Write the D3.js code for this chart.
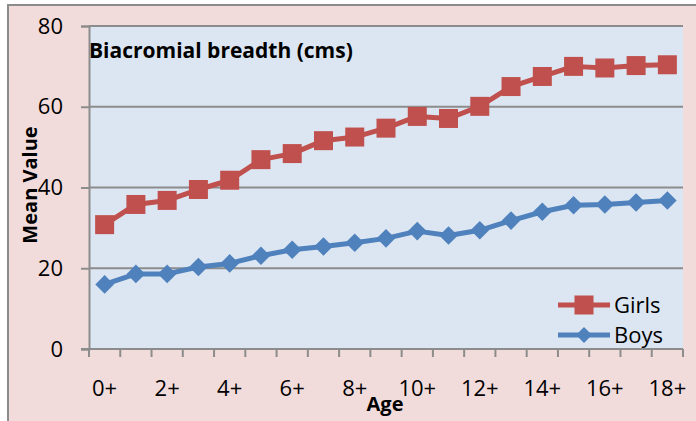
<!DOCTYPE html>
<html>
<head>
<meta charset="utf-8">
<script src="https://cdn.jsdelivr.net/npm/d3@7"></script>
<style>
  body { margin: 0; background: #fff; }
  svg { display: block; font-family: "Open Sans", "Noto Sans", sans-serif; }
</style>
</head>
<body>
<svg id="chart"></svg>
<script>
// chart data
var AGES = ["0+", "1+", "2+", "3+", "4+", "5+", "6+", "7+", "8+", "9+",
    "10+", "11+", "12+", "13+", "14+", "15+", "16+", "17+", "18+"];
var X_LABELS = ["0+", "2+", "4+", "6+", "8+", "10+", "12+", "14+", "16+", "18+"];
var Y_TICKS = [0, 20, 40, 60, 80];
var GIRLS = [30.8, 35.8, 36.8, 39.5, 41.8, 46.9, 48.4, 51.6, 52.5, 54.7,
    57.6, 57.1, 60.1, 65.0, 67.5, 70.0, 69.6, 70.2, 70.4];
var BOYS = [16.0, 18.6, 18.6, 20.3, 21.2, 23.1, 24.6, 25.4, 26.3, 27.4,
    29.2, 28.1, 29.4, 31.8, 34.0, 35.6, 35.8, 36.3, 36.8];
var SERIES_NAMES = ["Girls", "Boys"];

var RED = "#c0504d", BLUE = "#4f81bd";
var W = 696, H = 421;
var plot = {left: 89, top: 26, right: 683, bottom: 349};

var svg = d3.select("#chart").attr("width", W).attr("height", H);

// outer frame, pink
svg.append("rect").attr("x", 8).attr("y", 5).attr("width", W).attr("height", H)
    .attr("fill", "#f2dcdb").attr("stroke", "#8c8c8c").attr("stroke-width", 2);

// plot area
svg.append("rect").attr("x", plot.left).attr("y", plot.top)
    .attr("width", plot.right - plot.left).attr("height", plot.bottom - plot.top)
    .attr("fill", "#dce6f2");

var x = d3.scaleBand().domain(AGES).range([plot.left, plot.right]);
var y = d3.scaleLinear().domain([0, 80]).range([plot.bottom, plot.top]);

// gridlines + y ticks
var yAxis = svg.append("g").attr("transform", "translate(" + plot.left + ",0)")
    .call(d3.axisLeft(y).tickValues(Y_TICKS).tickSize(8).tickPadding(18));
yAxis.select(".domain").attr("stroke", "#8c8c8c").attr("stroke-width", 2);
yAxis.selectAll(".tick line").attr("stroke", "#8c8c8c").attr("stroke-width", 2);
yAxis.selectAll(".tick text").attr("font-size", 22).attr("fill", "#000")
    .attr("font-family", "Open Sans");

svg.append("g").selectAll("line").data(Y_TICKS.slice(1)).join("line")
    .attr("x1", plot.left).attr("x2", plot.right)
    .attr("y1", function(d) { return y(d); }).attr("y2", function(d) { return y(d); })
    .attr("stroke", "#8c8c8c").attr("stroke-width", 2);

// x axis: tick marks at band edges, labels every other age
var edges = AGES.map(function(a) { return x(a); }).concat([plot.right]);
svg.append("line").attr("x1", plot.left - 8).attr("x2", plot.right)
    .attr("y1", plot.bottom).attr("y2", plot.bottom)
    .attr("stroke", "#8c8c8c").attr("stroke-width", 2);
svg.append("g").selectAll("line").data(edges).join("line")
    .attr("x1", function(d) { return d; }).attr("x2", function(d) { return d; })
    .attr("y1", plot.bottom).attr("y2", plot.bottom + 8)
    .attr("stroke", "#8c8c8c").attr("stroke-width", 2);
svg.append("g").selectAll("text").data(X_LABELS).join("text")
    .attr("x", function(d) { return x(d) + x.bandwidth() / 2; })
    .attr("y", 396).attr("text-anchor", "middle").attr("font-size", 22)
    .text(function(d) { return d; });

// title + axis titles
svg.append("text").attr("x", plot.left).attr("y", 58)
    .attr("font-size", 21).attr("font-weight", "bold").text("Biacromial breadth (cms)");
svg.append("text").attr("transform", "translate(37,185) rotate(-90)")
    .attr("text-anchor", "middle").attr("font-size", 20).attr("font-weight", "bold")
    .text("Mean Value");
svg.append("text").attr("x", 385).attr("y", 411).attr("text-anchor", "middle")
    .attr("font-size", 20).attr("font-weight", "bold").text("Age");

// series
var cx = function(d, i) { return x(AGES[i]) + x.bandwidth() / 2; };
var line = d3.line().x(cx).y(function(d) { return y(d); });
var sq = d3.symbol().type(d3.symbolSquare).size(19 * 19);
var dm = d3.symbol().type(d3.symbolDiamond2).size(220);

function drawSeries(vals, color, sym) {
    var g = svg.append("g");
    g.append("path").datum(vals).attr("d", line).attr("fill", "none")
        .attr("stroke", color).attr("stroke-width", 5).attr("stroke-linejoin", "round");
    g.selectAll("path.mk").data(vals).join("path").attr("class", "mk")
        .attr("d", sym)
        .attr("transform", function(d, i) { return "translate(" + cx(d, i) + "," + y(d) + ")"; })
        .attr("fill", color);
}
drawSeries(BOYS, BLUE, dm);
drawSeries(GIRLS, RED, sq);

// legend
var legend = [{name: SERIES_NAMES[0], color: RED, sym: sq, y: 305},
    {name: SERIES_NAMES[1], color: BLUE, sym: d3.symbol().type(d3.symbolDiamond2).size(160), y: 335}];
var lg = svg.append("g").selectAll("g").data(legend).join("g")
    .attr("transform", function(d) { return "translate(0," + d.y + ")"; });
lg.append("line").attr("x1", 558).attr("x2", 610).attr("stroke", function(d) { return d.color; })
    .attr("stroke-width", 5);
lg.append("path").attr("d", function(d) { return d.sym(); }).attr("transform", "translate(584,0)")
    .attr("fill", function(d) { return d.color; });
lg.append("text").attr("x", 614).attr("dy", "0.35em").attr("font-size", 22)
    .text(function(d) { return d.name; });
</script>
</body>
</html>
